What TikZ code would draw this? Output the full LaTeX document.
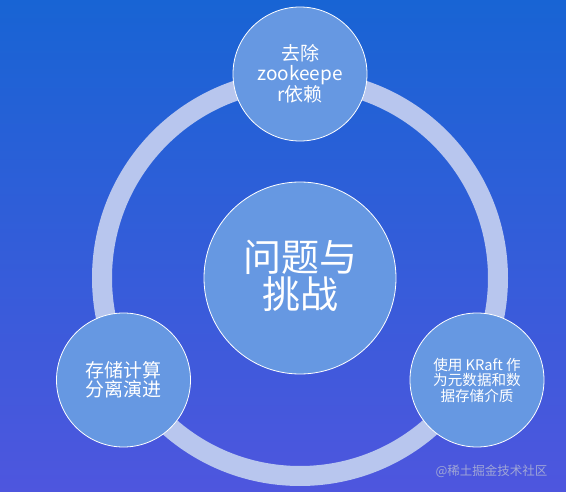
\documentclass[tikz,border=0pt]{standalone}
\usepackage{fontspec}
\setmainfont{Noto Sans CJK SC}
\usepackage{tikz}
\usetikzlibrary{shapes}
\definecolor{bgtop}{RGB}{24,100,212}
\definecolor{bgbot}{RGB}{78,86,222}
\definecolor{bubble}{RGB}{102,152,226}
\definecolor{ringblue}{RGB}{184,198,238}
\definecolor{markgray}{RGB}{160,166,214}

\begin{document}
\begin{tikzpicture}[x=1pt,y=-1pt,every node/.style={text=white, align=center},topic/.style={circle, fill=bubble, draw=white, line width=0.8pt, minimum size=134pt, inner sep=0pt},hub/.style={topic, minimum size=192pt},ring/.style={draw=ringblue, line width=20pt}]
  \useasboundingbox (0,0) rectangle (566,492);
  \fill[top color=bgtop, bottom color=bgbot] (0,0) rectangle (566,492);
  \coordinate (mid) at (300,278);
  \draw[ring] (mid) circle[radius=198pt];
  \node[hub, font=\fontsize{38}{37}\selectfont] (core) at (mid) {问题与\\挑战\\[-29pt]};
  \node[topic, font=\fontsize{19}{20}\selectfont] (zk) at (300,74) {去除\\zookeepe\\r依赖};
  \node[topic, font=\fontsize{19}{19.5}\selectfont] (sep) at (123.5,380) {存储计算\\分离演进};
  \node[topic, font=\fontsize{14.6}{15.5}\selectfont] (kraft) at (477,380) {使用 KRaft 作\\为元数据和数\\据存储介质};
  \node[anchor=east, text=markgray, font=\fontsize{12.5}{12.5}\selectfont] (credit) at (551,471) {@稀土掘金技术社区};
\end{tikzpicture}
\end{document}
